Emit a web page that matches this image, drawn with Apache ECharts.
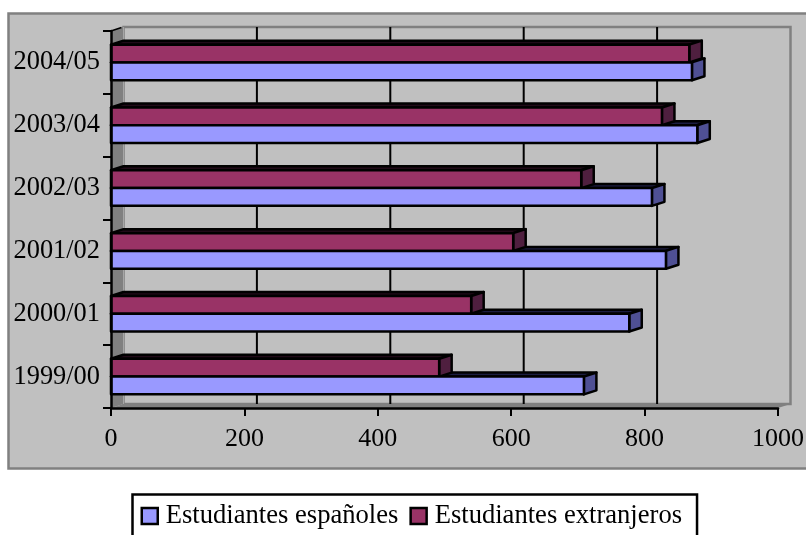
<!DOCTYPE html>
<html>
<head>
<meta charset="utf-8">
<style>html,body{margin:0;padding:0;background:#fff;overflow:hidden}#c{width:806px;height:535px}</style>
<script src="https://cdn.jsdelivr.net/npm/echarts@6/dist/echarts.min.js"></script>
</head>
<body>
<div id="c"></div>
<script>
const categories = ['1999/00','2000/01','2001/02','2002/03','2003/04','2004/05'];
const espanoles = [709, 777, 832, 811, 879, 871];
const extranjeros = [492, 540, 603, 705, 826, 867];
const gridTicks = [200, 400, 600, 800];
const nameEs = 'Estudiantes españoles';
const nameEx = 'Estudiantes extranjeros';
const FONT = '"Liberation Serif","Times New Roman",serif';
const DX = 12.5, DY = 4, BAR = 0.283;

const chart = echarts.init(document.getElementById('c'), null, {renderer:'canvas'});

function poly(points, fill, z2, noStroke) {
  return {type:'polygon', z2:z2, shape:{points:points},
    style:{fill:fill, stroke:noStroke?null:'#000', lineWidth:2.5, lineJoin:'round'}};
}

function renderWalls(params, api) {
  const s = params.coordSys;
  const l = s.x, t = s.y, r = s.x + s.width, b = s.y + s.height;
  const children = [
    {type:'polygon', shape:{points:[[l+DX,t-DY],[r+DX,t-DY],[r+DX,b-DY],[l+DX,b-DY]]},
      style:{fill:'#C0C0C0', stroke:'#808080', lineWidth:2.5}},
    poly([[l,t],[l+DX,t-DY],[l+DX,b-DY],[l,b]], '#808080', 1, true),
    poly([[l,b],[l+DX,b-DY],[r+DX,b-DY],[r,b]], '#808080', 1, true),
    {type:'line', z2:2, shape:{x1:l+DX,y1:t-DY,x2:l+DX,y2:b-DY}, style:{stroke:'#A6A6A6',lineWidth:1}},
    {type:'line', z2:2, shape:{x1:l,y1:t,x2:l+DX-2,y2:t-DY+0.5}, style:{stroke:'#000',lineWidth:1.5}}
  ];
  gridTicks.forEach(v => {
    const x = api.coord([v, 0])[0] + DX;
    children.push({type:'line', z2:3, shape:{x1:x,y1:t-DY,x2:x,y2:b-DY}, style:{stroke:'#000',lineWidth:2}});
  });
  return {type:'group', children};
}

function barRender(front, side, top, slot, z2Top, z2Body) {
  return function(params, api) {
    const end = api.coord([api.value(0), api.value(1)]);
    const start = api.coord([0, api.value(1)]);
    const h = api.size([0, 1])[1] * BAR;
    const y0 = slot === 0 ? end[1] - h : end[1];
    const y1 = y0 + h;
    const x0 = start[0], x1 = end[0];
    return {type:'group', children:[
      poly([[x0,y0],[x0+DX,y0-DY],[x1+DX,y0-DY],[x1,y0]], top, z2Top),
      poly([[x1,y0],[x1+DX,y0-DY],[x1+DX,y1-DY],[x1,y1]], side, z2Body),
      poly([[x0,y0],[x1,y0],[x1,y1],[x0,y1]], front, z2Body)
    ]};
  };
}

chart.setOption({
  animation:false,
  backgroundColor:'#fff',
  textStyle:{fontFamily:FONT},
  graphic:[{type:'rect', z:-10, shape:{x:8.5,y:13.5,width:860,height:455},
    style:{fill:'#C0C0C0', stroke:'#808080', lineWidth:2.5}}],
  grid:{left:111, top:31, width:667, height:377, outerBoundsMode:'none'},
  xAxis:{type:'value', min:0, max:1000, interval:200, z:6,
    splitLine:{show:false},
    axisLine:{show:true, lineStyle:{color:'#000', width:2.5}},
    axisTick:{show:true, length:8, lineStyle:{color:'#000', width:2}},
    axisLabel:{color:'#000', fontSize:26, fontFamily:FONT, margin:18, hideOverlap:false,
      showMinLabel:true, showMaxLabel:true, formatter:v=>String(v)}},
  yAxis:{type:'category', data:categories, z:6,
    splitLine:{show:false},
    axisLine:{show:true, lineStyle:{color:'#000', width:2.5}},
    axisTick:{show:true, length:8, alignWithLabel:false, lineStyle:{color:'#000', width:2}},
    axisLabel:{color:'#000', fontSize:26.4, fontFamily:FONT, margin:11}},
  legend:{left:132.5, top:494.5, orient:'horizontal', selectedMode:false,
    padding:[8,15,20,8], itemGap:11, itemWidth:16, itemHeight:16,
    borderColor:'#000', borderWidth:2.5, backgroundColor:'#fff',
    textStyle:{color:'#000', fontSize:26.6, fontFamily:FONT, padding:[0,0,0,3]},
    data:[
      {name:nameEs, icon:'rect', itemStyle:{color:'#9999FF', borderColor:'#000', borderWidth:2.5}},
      {name:nameEx, icon:'rect', itemStyle:{color:'#993366', borderColor:'#000', borderWidth:2.5}}
    ]},
  series:[
    {type:'custom', name:'walls', z:-1, silent:true, clip:false, renderItem:renderWalls,
      data:[[0,0]], encode:{x:0,y:1}},
    {type:'custom', name:nameEs, z:2, clip:false, itemStyle:{color:'#9999FF'},
      renderItem:barRender('#9999FF','#4F5094','#1C1C40',1,1,3),
      data:espanoles.map((v,i)=>[v,i]), encode:{x:0,y:1}},
    {type:'custom', name:nameEx, z:2, clip:false, itemStyle:{color:'#993366'},
      renderItem:barRender('#993366','#4F1F3F','#200A18',0,2,2),
      data:extranjeros.map((v,i)=>[v,i]), encode:{x:0,y:1}}
  ]
});
</script>
</body>
</html>
